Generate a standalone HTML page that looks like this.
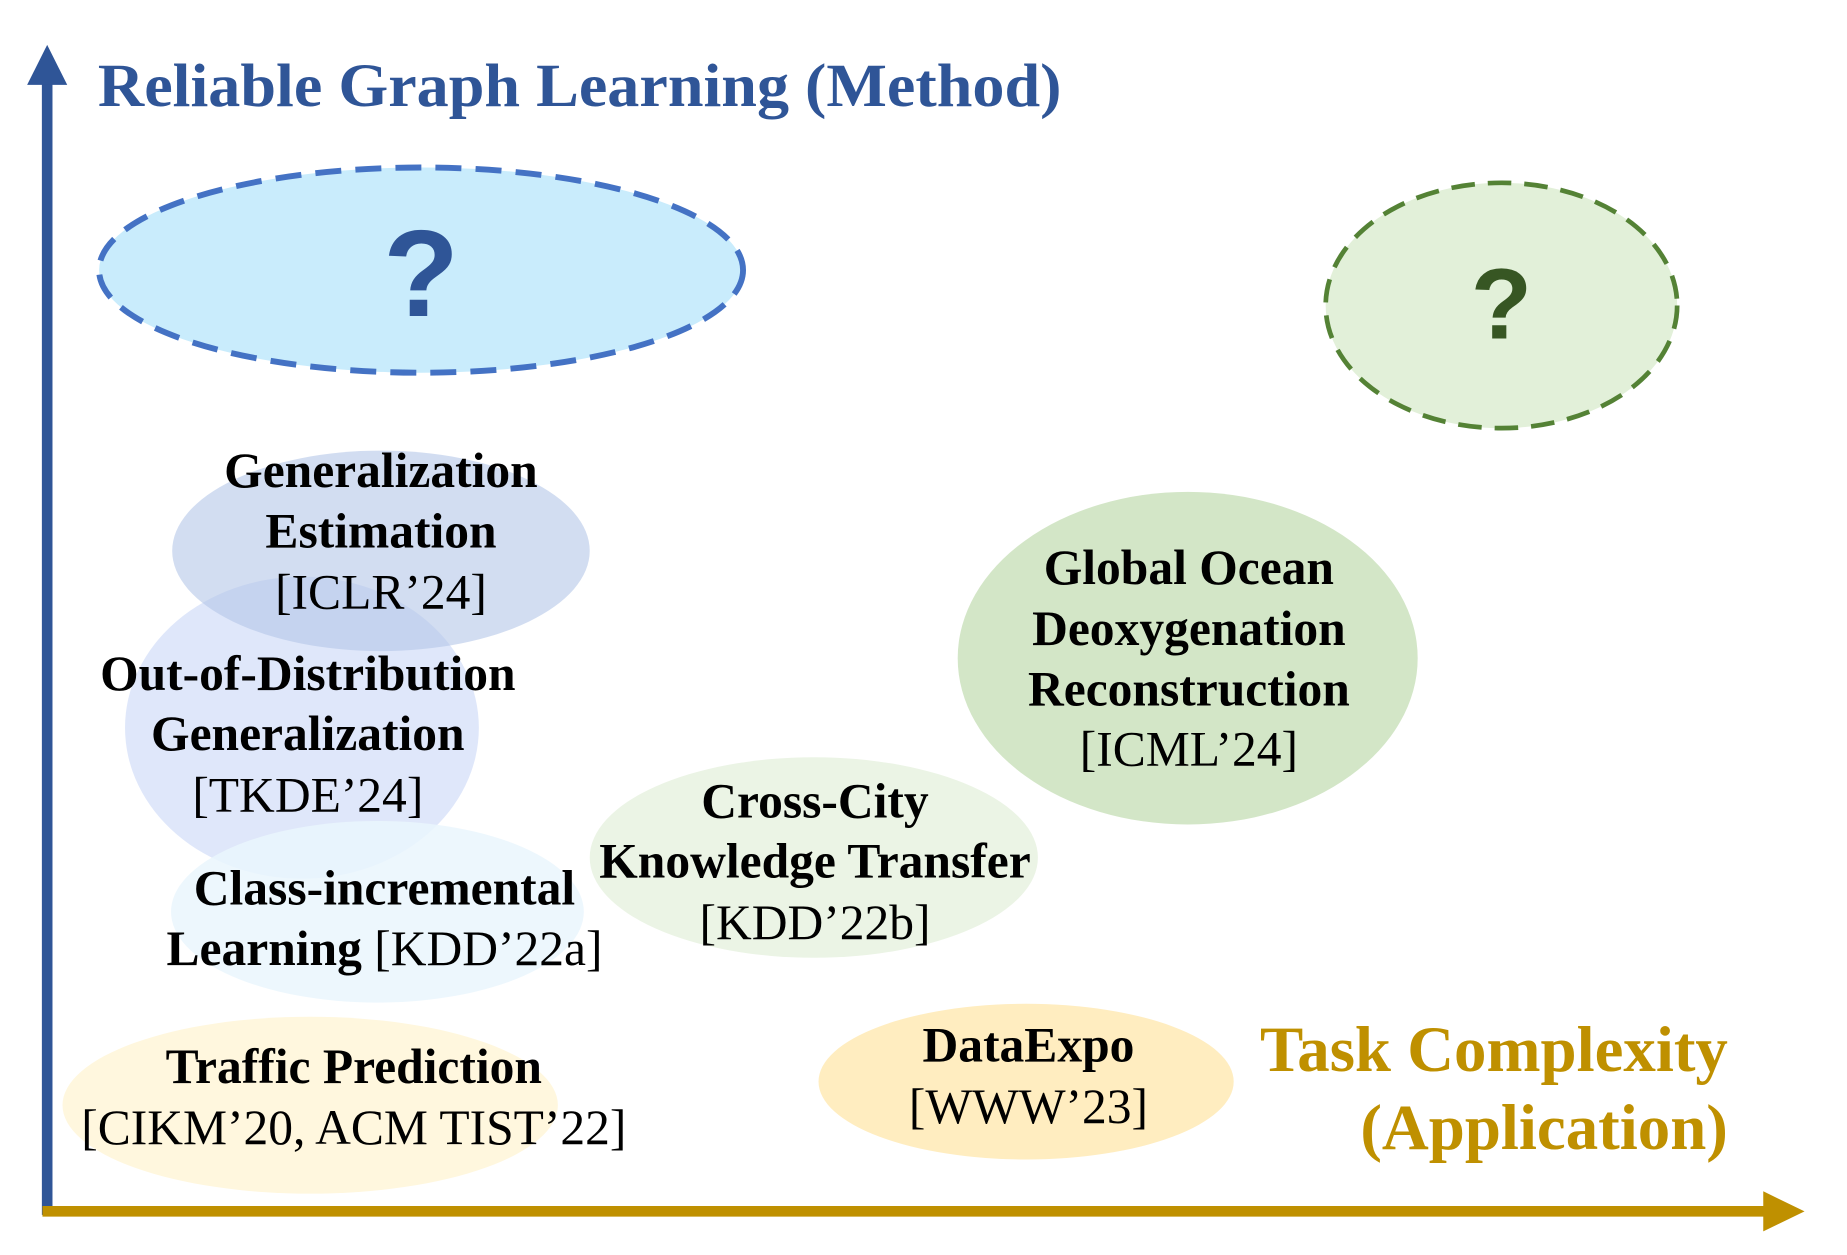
<!DOCTYPE html>
<html><head><meta charset="utf-8"><style>
html,body{margin:0;padding:0;background:#fff;}
svg{display:block;}
text{font-family:"Liberation Serif",serif;font-weight:bold;}
.n{font-weight:normal;}
</style></head><body>
<svg width="1847" height="1255" viewBox="0 0 1566 1064" preserveAspectRatio="none" xmlns="http://www.w3.org/2000/svg">
<rect width="1566" height="1064" fill="#fff"/>
<ellipse cx="263" cy="937" rx="210" ry="75" fill="#FFF7DE"/>
<ellipse cx="870" cy="917" rx="176" ry="66" fill="#FFEDC0"/>
<ellipse cx="690" cy="727" rx="190" ry="85" fill="#EBF4E5"/>
<ellipse cx="1007" cy="558" rx="195" ry="141" fill="#D3E6C7"/>
<ellipse cx="256" cy="617" rx="150" ry="128" fill="#DCE4FA" fill-opacity="0.9"/>
<ellipse cx="320" cy="773" rx="175" ry="77" fill="#EAF6FD" fill-opacity="0.85"/>
<ellipse cx="323" cy="467" rx="177" ry="85" fill="#B4C7E7" fill-opacity="0.6"/>
<ellipse cx="357" cy="229" rx="273" ry="87" fill="#C9ECFC" stroke="#4472C4" stroke-width="5" stroke-dasharray="22,12"/>
<text x="357" y="268" font-size="105" fill="#2F5597" text-anchor="middle" style="font-family:'Liberation Sans',sans-serif">?</text>
<ellipse cx="1273" cy="259" rx="149" ry="104" fill="#E2F0D9" stroke="#548235" stroke-width="4" stroke-dasharray="20,11"/>
<text x="1273" y="287" font-size="85" fill="#375623" text-anchor="middle" style="font-family:'Liberation Sans',sans-serif">?</text>
<line x1="40" y1="1030" x2="40" y2="68" stroke="#2F5597" stroke-width="9"/>
<polygon points="40,38 23,72 57,72" fill="#2F5597"/>
<line x1="36" y1="1027" x2="1500" y2="1027" stroke="#BF9000" stroke-width="9"/>
<polygon points="1530,1027 1495,1010 1495,1044" fill="#BF9000"/>
<text x="83" y="90" font-size="52" fill="#2F5597" textLength="817" lengthAdjust="spacingAndGlyphs">Reliable Graph Learning (Method)</text>
<text x="1465" y="908" font-size="55" fill="#BF9000" text-anchor="end">Task Complexity</text>
<text x="1465" y="974" font-size="55" fill="#BF9000" text-anchor="end">(Application)</text>
<g font-size="42" fill="#000" text-anchor="middle">
<text x="323" y="413">Generalization</text>
<text x="323" y="464">Estimation</text>
<text x="323" y="516" class="n">[ICLR’24]</text>
<text x="261" y="585">Out-of-Distribution</text>
<text x="261" y="636">Generalization</text>
<text x="261" y="688" class="n">[TKDE’24]</text>
<text x="326" y="767">Class-incremental</text>
<text x="326" y="818">Learning <tspan class="n">[KDD’22a]</tspan></text>
<text x="300" y="918">Traffic Prediction</text>
<text x="300" y="970" class="n">[CIKM’20, ACM TIST’22]</text>
<text x="691" y="693">Cross-City</text>
<text x="691" y="744">Knowledge Transfer</text>
<text x="691" y="796" class="n">[KDD’22b]</text>
<text x="1008" y="495">Global Ocean</text>
<text x="1008" y="547">Deoxygenation</text>
<text x="1008" y="598">Reconstruction</text>
<text x="1008" y="649" class="n">[ICML’24]</text>
<text x="872" y="900">DataExpo</text>
<text x="872" y="952" class="n">[WWW’23]</text>
</g>
</svg>
</body></html>
